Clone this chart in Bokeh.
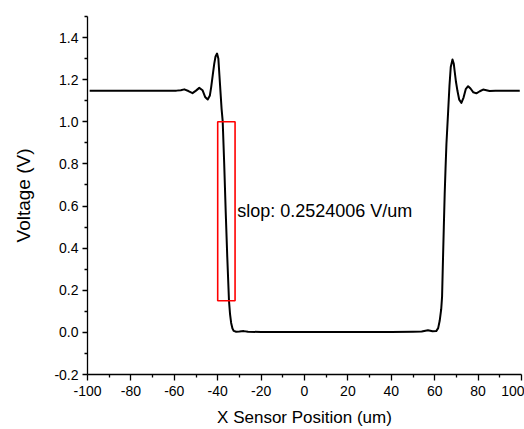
from bokeh.plotting import figure
from bokeh.models import FixedTicker, PrintfTickFormatter, Range1d, Label
from bokeh.embed import file_html
from bokeh.resources import INLINE

# Sensor scan profile (x in um, voltage in V)
x_um = [-99, -90, -80, -70, -62, -59, -57, -55.4, -53.5, -51.6, -50, -48.5, -47,
        -45.8, -44.6, -43.6, -43.0, -42.3, -41.6, -41.0, -40.3, -39.7, -39.2,
        -38.7, -38.2, -37.7, -37.0, -36.3, -35.6, -34.8, -34.3, -33.8, -33.2,
        -32.6, -31.5, -30, -28, -26, -20, 0, 20, 40, 50, 54, 56.9, 59, 60.7,
        61.6, 62.3, 63.0, 63.4, 63.8, 64.2, 64.6, 65.0, 65.4, 66.2, 66.8, 67.4,
        68.2, 68.8, 69.2, 69.8, 70.5, 71.3, 72.3, 73.3, 74.3, 75.4, 76.5, 77.8,
        79.2, 80.8, 82.3, 83.8, 85.3, 88, 92, 96, 99.2]
volt = [1.148, 1.148, 1.147, 1.148, 1.148, 1.148, 1.150, 1.154, 1.146, 1.136,
        1.148, 1.161, 1.150, 1.118, 1.106, 1.125, 1.165, 1.220, 1.275, 1.310,
        1.324, 1.300, 1.220, 1.140, 1.060, 1.003, 0.80, 0.57, 0.36, 0.15, 0.085,
        0.045, 0.018, 0.007, 0.003, 0.004, 0.006, 0.003, 0.002, 0.002, 0.002,
        0.002, 0.003, 0.004, 0.010, 0.005, 0.006, 0.020, 0.055, 0.11, 0.17,
        0.34, 0.50, 0.656, 0.78, 0.893, 1.05, 1.17, 1.26, 1.296, 1.275, 1.240,
        1.19, 1.146, 1.105, 1.090, 1.115, 1.155, 1.169, 1.158, 1.140, 1.135,
        1.145, 1.153, 1.150, 1.146, 1.147, 1.148, 1.147, 1.148]

# slope-fit window (red box)
box_left, box_right = -40, -32
box_bottom, box_top = 0.15, 1.0
slope_text = "slop: 0.2524006 V/um"
slope_x, slope_y = -31.0, 0.575

x_ticks = [-100, -80, -60, -40, -20, 0, 20, 40, 60, 80, 100]
x_minor = [-90, -70, -50, -30, -10, 10, 30, 50, 70, 90]
y_ticks = [-0.2, 0.0, 0.2, 0.4, 0.6, 0.8, 1.0, 1.2, 1.4]
y_minor = [-0.1, 0.1, 0.3, 0.5, 0.7, 0.9, 1.1, 1.3, 1.5]

FONT = "Liberation Sans"

p = figure(width=524, height=429, output_backend="svg", toolbar_location=None,
           x_range=Range1d(-100, 100), y_range=Range1d(-0.2, 1.5),
           min_border_left=87, min_border_right=3, min_border_top=16,
           min_border_bottom=55)
p.outline_line_color = None
p.xgrid.visible = False
p.ygrid.visible = False
p.background_fill_color = "white"
p.border_fill_color = "white"

p.line(x_um, volt, line_color="black", line_width=2, line_join="round")
p.quad(left=[box_left], right=[box_right], bottom=[box_bottom], top=[box_top],
       fill_color=None, line_color="#ff0000", line_width=1.6)

p.add_layout(Label(x=slope_x, y=slope_y, text=slope_text, text_font=FONT,
                   text_font_size="18px", text_baseline="middle",
                   text_color="black"))

xa = p.xaxis[0]
xa.ticker = FixedTicker(ticks=x_ticks, minor_ticks=x_minor)
xa.formatter = PrintfTickFormatter(format="%d")
xa.axis_label = "X Sensor Position (um)"
ya = p.yaxis[0]
ya.ticker = FixedTicker(ticks=y_ticks, minor_ticks=y_minor)
ya.formatter = PrintfTickFormatter(format="%.1f")
ya.axis_label = "Voltage (V)"

for ax in (xa, ya):
    ax.axis_line_color = "black"
    ax.axis_line_width = 1.3
    ax.major_tick_line_color = "black"
    ax.major_tick_line_width = 1.3
    ax.minor_tick_line_color = "black"
    ax.minor_tick_line_width = 1.3
    ax.major_tick_in = 0
    ax.minor_tick_in = 0
    ax.minor_tick_out = 3
    ax.major_label_text_font = FONT
    ax.major_label_text_font_size = "14px"
    ax.major_label_text_color = "black"
    ax.axis_label_text_font = FONT
    ax.axis_label_text_font_style = "normal"
    ax.axis_label_text_color = "black"

xa.major_tick_out = 6
xa.major_label_standoff = 5
xa.axis_label_text_font_size = "17px"
xa.axis_label_standoff = 9
ya.major_tick_out = 5
ya.major_label_standoff = 4
ya.axis_label_text_font_size = "19px"
ya.axis_label_standoff = 17

open("out.html", "w").write(file_html(p, INLINE))
